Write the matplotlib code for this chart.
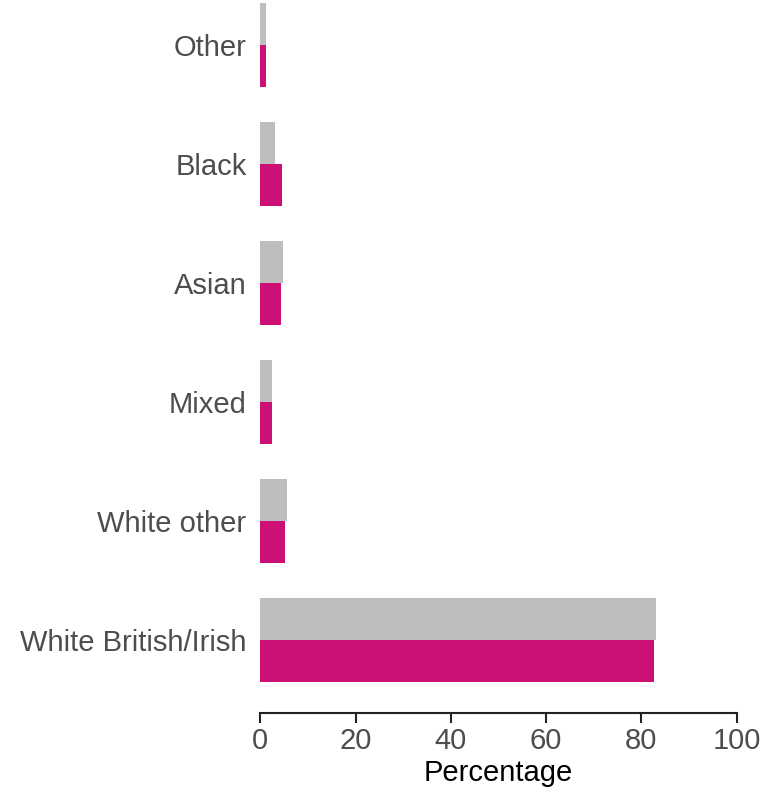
import numpy as np
import matplotlib.pyplot as plt

plt.rcParams['font.family'] = ['Liberation Sans', 'DejaVu Sans']

# -----------------------------
# Data (percentages)
# -----------------------------
groups = ['White British/Irish', 'White other', 'Mixed', 'Asian', 'Black', 'Other']
grey_vals = [83.1, 5.5, 2.5, 4.8, 3.1, 1.2]
pink_vals = [82.6, 5.1, 2.5, 4.3, 4.5, 1.1]

GREY = '#BEBEBE'
PINK = '#CC1075'

# -----------------------------
# Plot
# -----------------------------
fig = plt.figure(figsize=(7.6, 7.93), dpi=100)
ax = fig.add_axes([0.3425, 0.1009, 0.6268, 0.8991])

y = np.arange(len(groups))
h = 0.35
ax.barh(y + h / 2, grey_vals, height=h, color=GREY)
ax.barh(y - h / 2, pink_vals, height=h, color=PINK)

ax.set_xlim(0, 100)
ax.set_ylim(-0.613, 5.378)
ax.set_xticks([0, 20, 40, 60, 80, 100])
ax.set_yticks(y)
ax.set_yticklabels(groups)

for side in ['top', 'right', 'left']:
    ax.spines[side].set_visible(False)
ax.spines['bottom'].set_linewidth(1.5)
ax.spines['bottom'].set_color('#222222')

ax.tick_params(axis='y', length=0, pad=10, labelsize=21, labelcolor='#4D4D4D')
ax.tick_params(axis='x', length=7, width=1.5, color='#222222', pad=3,
               labelsize=21, labelcolor='#4D4D4D')
ax.set_xlabel('Percentage', fontsize=21, color='black', labelpad=3)

fig.savefig('out.png', dpi=100)
